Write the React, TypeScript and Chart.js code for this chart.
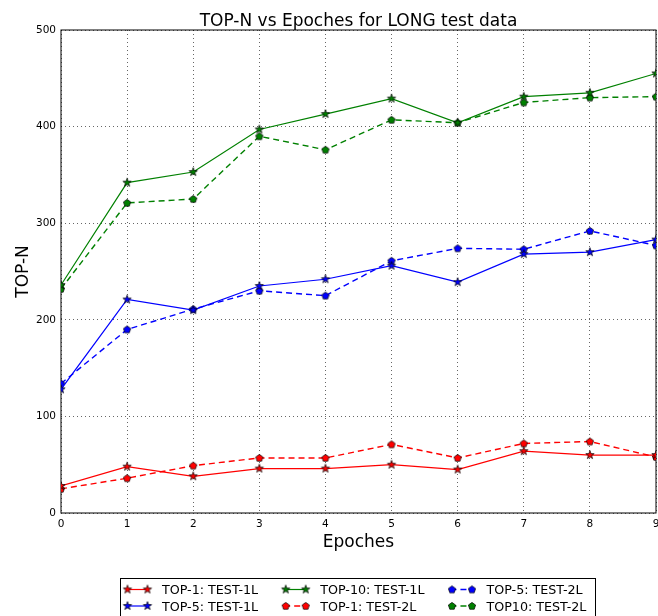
import { useEffect, useRef } from 'react';
import { Chart, registerables } from 'chart.js';

Chart.register(...registerables);

// ---------- data ----------
const epochs = [0, 1, 2, 3, 4, 5, 6, 7, 8, 9];
const top1Test1L = [28, 48, 38, 46, 46, 50, 45, 64, 60, 60];
const top5Test1L = [128, 221, 210, 235, 242, 256, 239, 268, 270, 283];
const top10Test1L = [236, 342, 353, 397, 413, 429, 404, 431, 435, 455];
const top1Test2L = [25, 36, 49, 57, 57, 71, 57, 72, 74, 58];
const top5Test2L = [134, 190, 211, 230, 225, 261, 274, 273, 292, 277];
const top10Test2L = [232, 321, 325, 390, 376, 407, 404, 425, 430, 431];

const seriesLabels = [
  'TOP-1: TEST-1L',
  'TOP-5: TEST-1L',
  'TOP-10: TEST-1L',
  'TOP-1: TEST-2L',
  'TOP-5: TEST-2L',
  'TOP10: TEST-2L',
];
const yTickValues = [0, 100, 200, 300, 400, 500];
const xTickValues = epochs;
const chartTitle = 'TOP-N vs Epoches for LONG test data';
const xAxisTitle = 'Epoches';
const yAxisTitle = 'TOP-N';

const FONT = '"DejaVu Sans", "Liberation Sans", sans-serif';
const RED = '#ff0000';
const BLUE = '#0000ff';
const GREEN = '#008000';

function makeStar(color: string): HTMLCanvasElement {
  const c = document.createElement('canvas');
  c.width = 12;
  c.height = 12;
  const g = c.getContext('2d')!;
  const cx = 6, cy = 6, ro = 4.4, ri = 1.75;
  g.beginPath();
  for (let i = 0; i < 10; i++) {
    const r = i % 2 === 0 ? ro : ri;
    const ang = -Math.PI / 2 + (i * Math.PI) / 5;
    const x = cx + r * Math.cos(ang);
    const y = cy + r * Math.sin(ang);
    if (i === 0) g.moveTo(x, y); else g.lineTo(x, y);
  }
  g.closePath();
  g.fillStyle = color;
  g.fill();
  g.strokeStyle = '#000';
  g.lineWidth = 0.7;
  g.stroke();
  return c;
}

function makePentagon(color: string): HTMLCanvasElement {
  const c = document.createElement('canvas');
  c.width = 10;
  c.height = 10;
  const g = c.getContext('2d')!;
  const cx = 5, cy = 5.2, r = 3.8;
  g.beginPath();
  for (let i = 0; i < 5; i++) {
    const ang = -Math.PI / 2 + (i * 2 * Math.PI) / 5;
    const x = cx + r * Math.cos(ang);
    const y = cy + r * Math.sin(ang);
    if (i === 0) g.moveTo(x, y); else g.lineTo(x, y);
  }
  g.closePath();
  g.fillStyle = color;
  g.fill();
  g.strokeStyle = '#000';
  g.lineWidth = 0.7;
  g.stroke();
  return c;
}

export default function App() {
  const ref = useRef<HTMLCanvasElement | null>(null);

  useEffect(() => {
    document.body.style.margin = '0';
    const canvas = ref.current;
    if (!canvas) return;

    const seriesValues = [top1Test1L, top5Test1L, top10Test1L, top1Test2L, top5Test2L, top10Test2L];
    const colors = [RED, BLUE, GREEN, RED, BLUE, GREEN];
    const dashed = [false, false, false, true, true, true];
    const markers = colors.map((col, i) => (dashed[i] ? makePentagon(col) : makeStar(col)));

    const datasets = seriesValues.map((vals, i) => ({
      label: seriesLabels[i],
      data: vals.map((v, j) => ({ x: epochs[j], y: v })),
      borderColor: colors[i],
      backgroundColor: colors[i],
      borderWidth: dashed[i] ? 1.4 : 1.2,
      borderDash: dashed[i] ? [6, 4] : [],
      pointStyle: markers[i] as any,
      pointRadius: 4,
      pointHoverRadius: 4,
      tension: 0,
      fill: false,
    }));

    const decor = {
      id: 'decor',
      beforeDatasetsDraw(chart: any) {
        const { ctx, chartArea: a } = chart;
        ctx.save();
        ctx.setLineDash([]);
        ctx.strokeStyle = '#000';
        ctx.lineWidth = 1;
        ctx.strokeRect(a.left, a.top, a.right - a.left, a.bottom - a.top);
        ctx.restore();
      },
      afterDraw(chart: any) {
        const { ctx, chartArea: a } = chart;
        const cx = (a.left + a.right) / 2;
        const cy = (a.top + a.bottom) / 2;
        ctx.save();
        ctx.fillStyle = '#000';
        ctx.font = `17px ${FONT}`;
        ctx.textAlign = 'center';
        ctx.textBaseline = 'alphabetic';
        ctx.fillText(chartTitle, cx, 26);
        ctx.fillText(xAxisTitle, cx, 546.5);
        ctx.save();
        ctx.translate(28, cy);
        ctx.rotate(-Math.PI / 2);
        ctx.fillText(yAxisTitle, 0, 0);
        ctx.restore();

        // legend (3 columns, 2 rows, column-major)
        ctx.font = `12.7px ${FONT}`;
        const ds = chart.data.datasets;
        const rowsY = [589.5, 606];
        const boxLeft = 120;
        const boxTop = 578.5;
        let x0 = 126;
        const cols = 3;
        let lastRight = 0;
        for (let c = 0; c < cols; c++) {
          let maxW = 0;
          for (let r = 0; r < 2; r++) {
            const idx = c * 2 + r;
            const d = ds[idx];
            const y = rowsY[r];
            ctx.save();
            ctx.strokeStyle = d.borderColor;
            ctx.lineWidth = d.borderWidth;
            ctx.setLineDash(d.borderDash || []);
            ctx.beginPath();
            ctx.moveTo(x0, y);
            ctx.lineTo(x0 + 23, y);
            ctx.stroke();
            ctx.restore();
            const img = d.pointStyle as HTMLCanvasElement;
            ctx.drawImage(img, x0 + 1.5 - img.width / 2, y - img.height / 2);
            ctx.drawImage(img, x0 + 21.5 - img.width / 2, y - img.height / 2);
            ctx.textAlign = 'left';
            ctx.textBaseline = 'alphabetic';
            ctx.fillStyle = '#000';
            ctx.fillText(d.label, x0 + 36, y + 4.6);
            maxW = Math.max(maxW, ctx.measureText(d.label).width);
          }
          lastRight = x0 + 36 + maxW;
          x0 = lastRight + 26;
        }
        ctx.strokeStyle = '#000';
        ctx.lineWidth = 1;
        ctx.setLineDash([]);
        ctx.strokeRect(boxLeft + 0.5, boxTop, Math.round(lastRight + 9 - boxLeft), 60);
        ctx.restore();
      },
    };

    const gridStyle = {
      color: 'rgba(0,0,0,0.6)',
      lineWidth: 1,
      drawTicks: false,
    };

    const chart = new Chart(canvas, {
      type: 'line',
      data: { datasets: datasets as any },
      options: {
        animation: false,
        responsive: false,
        maintainAspectRatio: false,
        layout: { padding: { top: 30, right: 2, left: 0, bottom: 0 }, autoPadding: false } as any,
        plugins: {
          legend: { display: false },
          title: { display: false },
          tooltip: { enabled: false },
        },
        scales: {
          x: {
            type: 'linear',
            min: xTickValues[0],
            max: xTickValues[xTickValues.length - 1],
            afterFit: (s: any) => { s.height = 103; s.paddingLeft = 0; s.paddingRight = 0; },
            afterBuildTicks: (s: any) => { s.ticks = xTickValues.map((v) => ({ value: v })); },
            ticks: {
              stepSize: 1,
              color: '#000',
              padding: 5,
              maxRotation: 0,
              autoSkip: false,
              font: { family: FONT, size: 10.5 },
            },
            grid: gridStyle,
            border: { display: false, dash: [1, 3] },
          },
          y: {
            type: 'linear',
            min: yTickValues[0],
            max: yTickValues[yTickValues.length - 1],
            afterFit: (s: any) => { s.width = 61; s.paddingTop = 0; s.paddingBottom = 0; },
            afterBuildTicks: (s: any) => { s.ticks = yTickValues.map((v) => ({ value: v })); },
            ticks: {
              stepSize: 100,
              color: '#000',
              padding: 5,
              font: { family: FONT, size: 10.5 },
            },
            grid: gridStyle,
            border: { display: false, dash: [1, 3] },
          },
        },
      } as any,
      plugins: [decor],
    });

    return () => chart.destroy();
  }, []);

  return (
    <div style={{ width: 658, height: 616, background: '#fff' }}>
      <canvas ref={ref} width={658} height={616} style={{ display: 'block' }} />
    </div>
  );
}
